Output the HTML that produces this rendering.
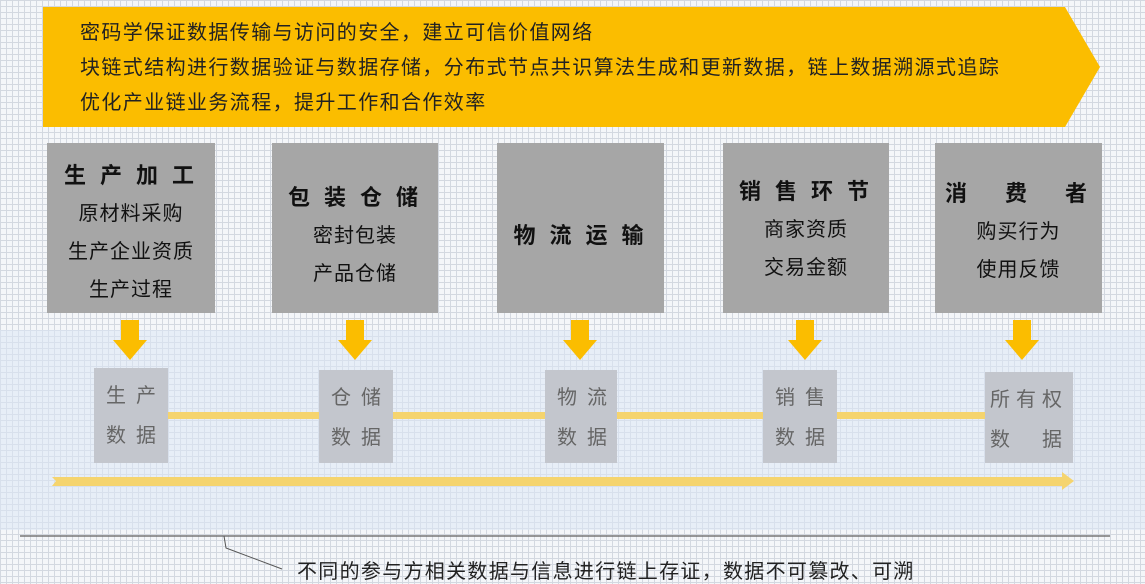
<!DOCTYPE html>
<html><head><meta charset="utf-8"><style>
body{margin:0;width:1145px;height:584px;overflow:hidden;position:relative;
background-color:#f4f6f9;
background-image:linear-gradient(#d3d8e0 1px,transparent 1px),linear-gradient(90deg,#d3d8e0 1px,transparent 1px);
background-size:6px 6px;font-family:"Liberation Sans","Noto Sans CJK SC",sans-serif;}
.a{position:absolute}
.tint{left:0;top:330px;width:1145px;height:200px;background:rgba(220,232,245,0.55)}
.big{background:#a6a6a6;color:#111;text-align:center;font-size:20px;line-height:38px;box-sizing:border-box;letter-spacing:1px}
.big b{font-size:22px;font-weight:bold;display:block}
.sm{background:#c3c6cd;color:#666;font-size:20px;line-height:40px;box-sizing:border-box;padding:8px 0 0 12px;letter-spacing:10px}
</style></head><body>
<div class="a tint"></div>
<svg class="a" style="left:0;top:0" width="1145" height="584">
<polygon points="43,7 1065,7 1100,67 1065,127 43,127" fill="#fbbd00"/>
<g fill="#fbbd00">
<polygon points="121,320 139,320 139,340 147,340 130,360 113,340 121,340"/>
<polygon points="346,320 364,320 364,340 372,340 355,360 338,340 346,340"/>
<polygon points="571,320 589,320 589,340 597,340 580,360 563,340 571,340"/>
<polygon points="796,320 814,320 814,340 822,340 805,360 788,340 796,340"/>
<polygon points="1013,320 1031,320 1031,340 1039,340 1022,360 1005,340 1013,340"/>
</g>
<rect x="168" y="412" width="820" height="7" fill="#f5d46e"/>
<polygon points="52,477 1062,477 1062,472 1074,481 1062,490 1062,486 52,486 56,481" fill="#f5d46e"/>
<line x1="20" y1="536" x2="1110" y2="536" stroke="#777" stroke-width="1.5"/>
<polyline points="224,536 226,548 282,569" fill="none" stroke="#555" stroke-width="1"/>
</svg>
<div class="a" style="left:80px;top:16px;font-size:20px;letter-spacing:1.4px;line-height:35px;color:#222;white-space:nowrap">密码学保证数据传输与访问的安全，建立可信价值网络<br>块链式结构进行数据验证与数据存储，分布式节点共识算法生成和更新数据，链上数据溯源式追踪<br>优化产业链业务流程，提升工作和合作效率</div>
<div class="a big" style="left:47px;top:143px;width:168px;height:170px;padding-top:14px"><b style="letter-spacing:14px;padding-left:10px">生产加工</b>原材料采购<br>生产企业资质<br>生产过程</div>
<div class="a big" style="left:272px;top:143px;width:166px;height:170px;padding-top:36px"><b style="letter-spacing:14px;padding-left:10px">包装仓储</b>密封包装<br>产品仓储</div>
<div class="a big" style="left:497px;top:143px;width:167px;height:170px;padding-top:74px"><b style="letter-spacing:14px;padding-left:10px">物流运输</b></div>
<div class="a big" style="left:723px;top:143px;width:166px;height:170px;padding-top:30px"><b style="letter-spacing:14px;padding-left:10px">销售环节</b>商家资质<br>交易金额</div>
<div class="a big" style="left:935px;top:143px;width:167px;height:170px;padding-top:32px"><b style="display:flex;justify-content:space-between;padding:0 14px 0 10px">消<span>费</span><span>者</span></b>购买行为<br>使用反馈</div>
<div class="a sm" style="left:94px;top:368px;width:74px;height:95px">生产<br>数据</div>
<div class="a sm" style="left:319px;top:370px;width:74px;height:93px">仓储<br>数据</div>
<div class="a sm" style="left:545px;top:370px;width:72px;height:93px">物流<br>数据</div>
<div class="a sm" style="left:763px;top:370px;width:74px;height:93px">销售<br>数据</div>
<div class="a sm" style="left:985px;top:372px;width:88px;height:91px;padding-left:5px;letter-spacing:6px">所有权<br>数<span style="letter-spacing:0;margin-left:26px">据</span></div>
<div class="a" style="left:297px;top:555px;font-size:20px;letter-spacing:1.3px;color:#222;white-space:nowrap">不同的参与方相关数据与信息进行链上存证，数据不可篡改、可溯</div>
</body></html>
